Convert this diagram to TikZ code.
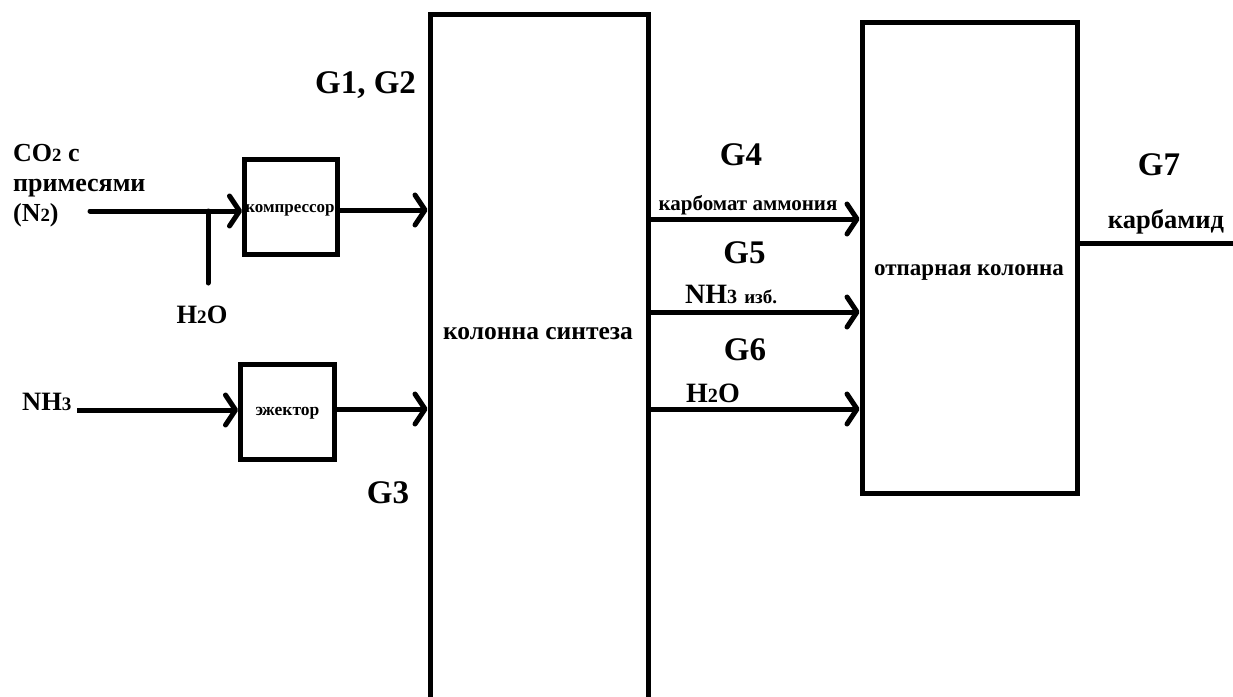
\documentclass[tikz,border=0pt]{standalone}
\usepackage{fontspec}
\setmainfont{Liberation Serif}
\usetikzlibrary{arrows.meta}
\newcommand\dgt[1]{\scalebox{0.72}{#1}}
\newcommand\fs[1]{\fontsize{#1}{#1}\selectfont\bfseries}
\begin{document}
\begin{tikzpicture}[x=1pt,y=-1pt,
  unitbox/.style={draw,line width=5pt,inner sep=0pt},
  flow/.style={line width=5pt,-{Straight Barb[length=10pt,width=30pt,line width=5pt,round]}},
  pipe/.style={line width=5pt,line cap=round},
  glbl/.style={inner sep=0pt,anchor=base,font=\fs{33}},
  txt/.style={inner sep=0pt,anchor=base,font=\fs{#1}}]
\useasboundingbox (0,0) rectangle (1233,696);
% apparatus
\node[unitbox,minimum width=218pt,minimum height=760pt] (syn) at (539,394.5) {};
\node[unitbox,minimum width=215pt,minimum height=471pt] (strip) at (969.5,257.5) {};
\node[unitbox,minimum width=93pt,minimum height=95pt] (comp) at (291,207) {};
\node[unitbox,minimum width=94pt,minimum height=95pt] (ej) at (287.5,412) {};
\node[txt=25.5] (synlbl) at (538,339) {колонна синтеза};
\node[txt=23] (striplbl) at (969,275) {отпарная колонна};
\node[txt=17] (complbl) at (290,212) {компрессор};
\node[txt=17.5] (ejlbl) at (287.5,415) {эжектор};
% inlet points
\coordinate (co2in) at (90,211);
\coordinate (h2oin) at (208,283);
\coordinate (mix) at (208,211);
\coordinate (nh3in) at (77,410);
\coordinate (out) at (1240,243);
% inlet streams
\draw[pipe] (co2in) -- (mix);
\draw[flow] (mix) -- (mix -| comp.west);
\draw[pipe] (h2oin) -- (mix);
\draw[flow] (nh3in) -- (nh3in -| ej.west);
\draw[flow] (comp.east |- 0,210) -- (syn.west |- 0,210);
\draw[flow] (ej.east |- 0,409) -- (syn.west |- 0,409);
% streams to stripping column
\draw[flow] (syn.east |- 0,219) -- (strip.west |- 0,219);
\draw[flow] (syn.east |- 0,312) -- (strip.west |- 0,312);
\draw[flow] (syn.east |- 0,409) -- (strip.west |- 0,409);
\draw[line width=5pt] (strip.east |- out) -- (out);
% labels
\node[glbl] (g12) at (365.5,93) {G1, G2};
\node[inner sep=0pt,anchor=west,align=left,font=\fontsize{26}{30}\selectfont\bfseries] (co2) at (13,186) {CO\dgt{2} с\\примесями\\(N\dgt{2})};
\node[txt=26.5] (h2o) at (202,323) {H\dgt{2}O};
\node[txt=26.5,anchor=base west] (nh3) at (22,410) {NH\dgt{3}};
\node[glbl] (g3) at (388,503) {G3};
\node[glbl] (g4) at (741,165) {G4};
\node[txt=21] (g4t) at (748,210) {карбомат аммония};
\node[glbl] (g5) at (744.5,263) {G5};
\node[txt=28,anchor=base west] (g5t) at (685,303) {NH\dgt{3} {\fs{19}изб.}};
\node[glbl] (g6) at (745,360) {G6};
\node[txt=28] (g6t) at (713,402) {H\dgt{2}O};
\node[glbl] (g7) at (1159,175) {G7};
\node[txt=26.5] (g7t) at (1166,228) {карбамид};
\end{tikzpicture}
\end{document}
